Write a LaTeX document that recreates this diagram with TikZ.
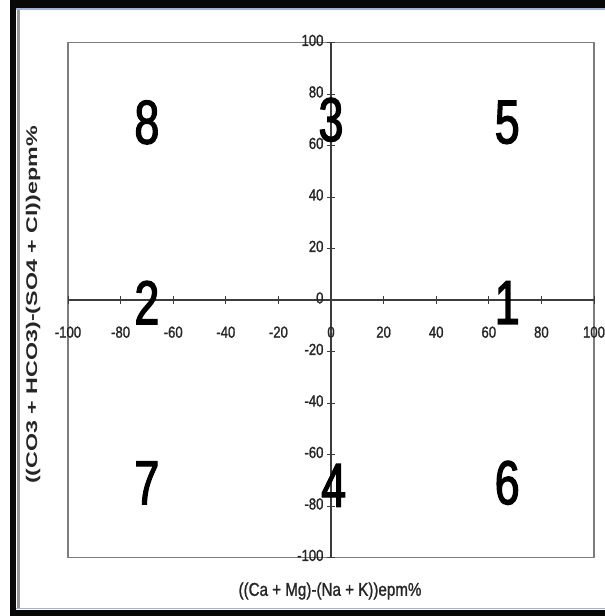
\documentclass[tikz,border=0pt]{standalone}
\usepackage{fontspec}
\setmainfont{Liberation Sans}
\newfontfamily\narrowfont[FakeStretch=0.82,FakeBold=1.2]{Liberation Sans}
\newfontfamily\zonefont[FakeStretch=0.72,FakeBold=2]{Liberation Sans}
\newfontfamily\widefont[FakeStretch=1.5]{Liberation Sans}
\usetikzlibrary{positioning}
\definecolor{frameBlack}{RGB}{8,8,8}
\definecolor{frameGray}{RGB}{150,150,150}
\definecolor{frameBlue}{RGB}{160,180,210}
\definecolor{boxGray}{RGB}{125,125,125}
\definecolor{axisGray}{RGB}{60,60,60}

\tikzset{
  ticklab/.style={font=\narrowfont\fontsize{16}{16}\selectfont, inner sep=0pt, text=black!85},
  zonelab/.style={font=\zonefont\fontsize{62}{62}\selectfont, inner sep=0pt},
  axistitle/.style={inner sep=0pt, text=black!85}
}

\begin{document}
\begin{tikzpicture}[x=1pt, y=-1pt]
  \useasboundingbox (0,0) rectangle (605,616);
  \fill[white] (0,0) rectangle (605,616);
  % outer frame of the screenshot
  \fill[frameBlack] (10,0) rectangle (16,616);
  \fill[frameBlack] (10,0) rectangle (605,8);
  \fill[frameBlack] (10,610) rectangle (605,616);
  \draw[frameGray, line width=2.5pt] (18.5,9) -- (18.5,609);
  \draw[frameBlue, line width=1.5pt] (16,9) -- (605,9);
  \draw[frameBlue, line width=1.5pt] (16,608.5) -- (605,608.5);

  % chart area
  \begin{scope}[shift={(331,300)}, x=2.63pt, y=2.575pt]
    \draw[boxGray, line width=1.6pt] (-100,-100) rectangle (100,100);
    \draw[axisGray, line width=1.1pt] (-100,0) -- (100,0);
    \draw[axisGray, line width=1.1pt] (0,-100) -- (0,100);
    % ticks and numbers
    \foreach \v in {-100,-80,...,100} {
      \draw[axisGray, line width=0.9pt] (\v,0) ++(0,-1.6) -- ++(0,3.2);
      \draw[axisGray, line width=0.9pt] (0,\v) ++(-1.5,0) -- ++(3,0);
      \node[ticklab] (xl\v) at (\v,-12.5) {\v};
      \node[ticklab, anchor=east] (yl\v) at (-2.8,\v+0.8) {\v};
    }
    % zone numbers
    \node[zonelab] (z8) at (-70,69) {8};
    \node[zonelab] (z3) at (0,70) {3};
    \node[zonelab] (z5) at (67,69) {5};
    \node[zonelab] (z2) at (-70,-1) {2};
    \node[zonelab] (z1) at (67,-1) {1};
    \node[zonelab] (z7) at (-70,-71) {7};
    \node[zonelab] (z4) at (1,-72) {4};
    \node[zonelab] (z6) at (67,-71) {6};
  \end{scope}

  % axis titles
  \node[axistitle, font=\narrowfont\fontsize{18.5}{18.5}\selectfont] (xtitle) at (330,591) {((Ca + Mg)-(Na + K))epm\%};
  \node[axistitle, font=\widefont\bfseries\fontsize{15.5}{15.5}\selectfont, rotate=90] (ytitle) at (33,305) {((CO3 + HCO3)-(SO4 + Cl))epm\%};
\end{tikzpicture}
\end{document}
